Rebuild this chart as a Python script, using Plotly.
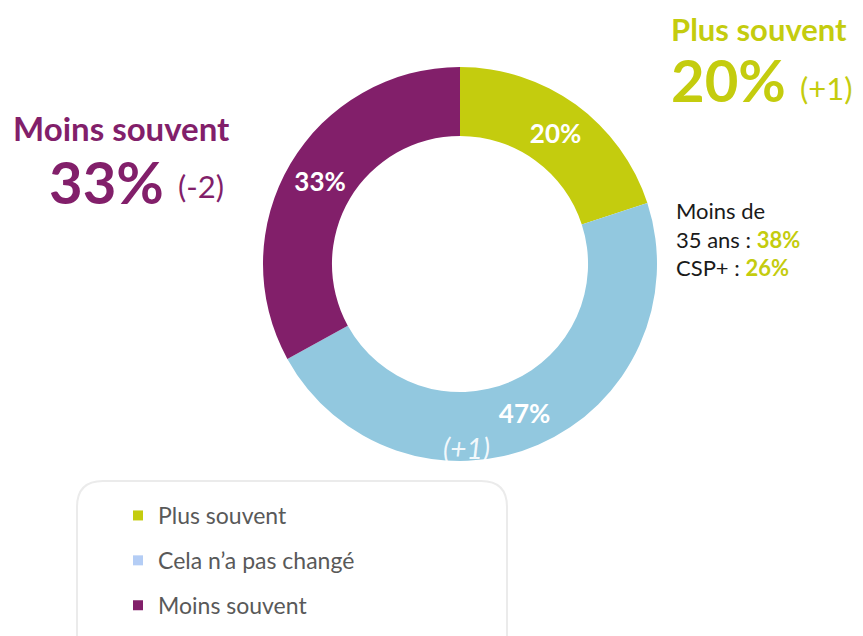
import plotly.graph_objects as go

# Donut data (clockwise from the top)
categories = ["Plus souvent", "Cela n’a pas changé", "Moins souvent"]
values = [20, 47, 33]
slice_colors = ["#c4cc0e", "#92c8df", "#821f6a"]
legend_colors = ["#c4cc0e", "#b4cdf5", "#821f6a"]
slice_labels = ["20%", "47%", "33%"]

# the page body has an 8px margin, so the figure is 8px smaller each way
OFF = 8
W, H = 863 - OFF, 636 - OFF
FONT = "Lato"


def px(x):
    return (x - OFF) / W


def py(y):
    return 1 - (y - OFF) / H


# Donut geometry in window pixels
cx, cy, r = 460, 264, 197

fig = go.Figure()

fig.add_trace(go.Pie(
    labels=categories,
    values=values,
    text=slice_labels,
    textinfo="text",
    hole=0.65,
    sort=False,
    direction="clockwise",
    rotation=0,
    marker=dict(colors=slice_colors, line=dict(width=0)),
    textposition="inside",
    insidetextorientation="horizontal",
    textfont=dict(family=FONT, size=26, color="white", weight="bold"),
    showlegend=False,
    hoverinfo="label+percent",
    domain=dict(x=[px(cx - r), px(cx + r)], y=[py(cy + r), py(cy - r)]),
))

# Legend entries (squares), one group each so the gap can be set
for name, col in zip(categories, legend_colors):
    fig.add_trace(go.Scatter(
        x=[None], y=[None], mode="markers", name=name,
        legendgroup=name,
        marker=dict(symbol="square", size=10, color=col),
    ))

# Rounded box behind the legend
bx0, by0, bx1, by1, rad = 77, 481, 507, 680, 26
path = (
    f"M {px(bx0)},{py(by0 + rad)} "
    f"Q {px(bx0)},{py(by0)} {px(bx0 + rad)},{py(by0)} "
    f"L {px(bx1 - rad)},{py(by0)} "
    f"Q {px(bx1)},{py(by0)} {px(bx1)},{py(by0 + rad)} "
    f"L {px(bx1)},{py(by1)} L {px(bx0)},{py(by1)} Z"
)
fig.add_shape(type="path", path=path, xref="paper", yref="paper",
              line=dict(color="#ebebeb", width=2), fillcolor="rgba(0,0,0,0)",
              layer="below")

purple = "#821f6a"
green = "#c4cc0e"

annotations = [
    # left callout
    dict(x=px(11), y=py(128), text="<b>Moins souvent</b>", xanchor="left",
         font=dict(size=33, color=purple)),
    dict(x=px(47), y=py(181), text="<b>33%</b>", xanchor="left",
         font=dict(size=58, color=purple)),
    dict(x=px(176), y=py(186), text="(-2)", xanchor="left",
         font=dict(size=31, color=purple)),
    # right callout
    dict(x=px(669), y=py(29), text="<b>Plus souvent</b>", xanchor="left",
         font=dict(size=31, color=green)),
    dict(x=px(669), y=py(80), text="<b>20%</b>", xanchor="left",
         font=dict(size=58, color=green)),
    dict(x=px(798), y=py(88), text="(+1)", xanchor="left",
         font=dict(size=31, color=green)),
    dict(x=px(674), y=py(239),
         text=(f"Moins de<br>35 ans : <b><span style='color:{green}'>38%</span></b>"
               f"<br>CSP+ : <b><span style='color:{green}'>26%</span></b>"),
         xanchor="left", align="left",
         font=dict(size=22, color="#1a1a1a")),
    # change under 47%
    dict(x=px(466), y=py(448), text="<i>(+1)</i>", xanchor="center",
         font=dict(size=28, color="rgba(255,255,255,0.9)")),
]
for a in annotations:
    a.update(xref="paper", yref="paper", showarrow=False, yanchor="middle")
    a["font"].setdefault("family", FONT)

fig.update_layout(
    width=W, height=H,
    margin=dict(l=0, r=0, t=0, b=0),
    paper_bgcolor="white",
    plot_bgcolor="white",
    annotations=annotations,
    xaxis=dict(visible=False),
    yaxis=dict(visible=False),
    showlegend=True,
    legend=dict(
        x=px(118), y=py(494), xanchor="left", yanchor="top",
        font=dict(family=FONT, size=23, color="#595959"),
        tracegroupgap=12,
        bgcolor="rgba(0,0,0,0)",
        itemclick=False, itemdoubleclick=False,
    ),
)

fig.write_html("out.html")
